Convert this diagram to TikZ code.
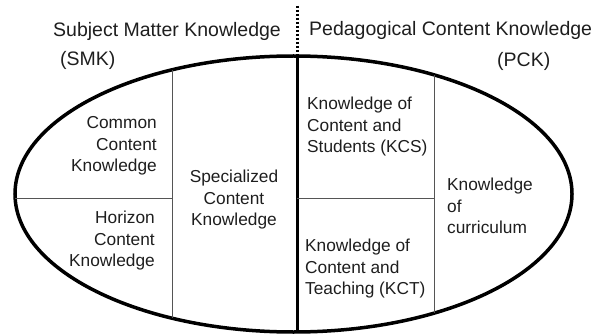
\documentclass[tikz,border=0pt]{standalone}
\usepackage{fontspec}
\setmainfont{Liberation Sans}
\definecolor{inkgray}{HTML}{1E1E1E}
\definecolor{rulegray}{HTML}{555555}
\begin{document}
\begin{tikzpicture}[x=1pt,y=-1pt,
    head/.style={font=\fontsize{19.5}{23}\selectfont,text=inkgray,inner sep=0},
    part/.style={font=\fontsize{17.3}{21.5}\selectfont,text=inkgray,inner sep=0},
    thin/.style={draw=rulegray,line width=1pt}]
    \useasboundingbox (0,0) rectangle (597,334);

    % headings
    \node at (53,37) [head,anchor=base west] (smk) {Subject Matter Knowledge};
    \node at (60,66) [head,anchor=base west] (smkabbr) {(SMK)};
    \node at (309,36) [head,anchor=base west] (pck) {Pedagogical Content Knowledge};
    \node at (497,67) [head,anchor=base west] (pckabbr) {(PCK)};

    % the oval and its dividing lines
    \draw[line width=3.5pt] (293.5,194) ellipse [x radius=278.5pt, y radius=138pt];
    \coordinate (divtop) at (297,56);
    \coordinate (divbot) at (297,332);
    \coordinate (divdots) at (297,6);
    \draw[line width=3pt] (divtop) -- (divbot);
    \draw[line width=3pt,dash pattern=on 2pt off 2pt] (divdots) -- (divtop);

    \coordinate (scktop) at (172,70);
    \coordinate (sckbot) at (172,318);
    \coordinate (kcctop) at (434,75);
    \coordinate (kccbot) at (434,313);
    \coordinate (smkleft) at (15,198);
    \coordinate (smkmid) at (172,198);
    \coordinate (pckmid) at (297,198);
    \coordinate (pckright) at (434,198);
    \draw[thin] (scktop) -- (sckbot);
    \draw[thin] (kcctop) -- (kccbot);
    \draw[thin] (smkleft) -- (smkmid);
    \draw[thin] (pckmid) -- (pckright);

    % the six domains
    \node at (157,146) [part,anchor=east,align=right] (cck) {Common\\Content\\Knowledge};
    \node at (155,241) [part,anchor=east,align=right] (hck) {Horizon\\Content\\Knowledge};
    \node at (234,200) [part,align=center] (sck) {Specialized\\Content\\Knowledge};
    \node at (307,127) [part,anchor=west,align=left] (kcs) {Knowledge of\\Content and\\Students (KCS)};
    \node at (305,269) [part,anchor=west,align=left] (kct) {Knowledge of\\Content and\\Teaching (KCT)};
    \node at (447,206) [part,anchor=west,align=left] (kcc) {Knowledge\\of\\curriculum};
\end{tikzpicture}
\end{document}
